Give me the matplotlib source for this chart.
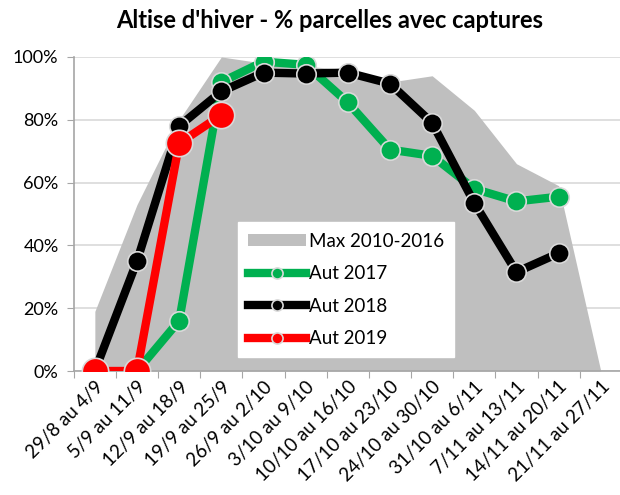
import matplotlib.pyplot as plt
import numpy as np

plt.rcParams['font.family'] = ['Lato', 'DejaVu Sans']

weeks = ['29/8 au 4/9', '5/9 au 11/9', '12/9 au 18/9', '19/9 au 25/9',
         '26/9 au 2/10', '3/10 au 9/10', '10/10 au 16/10', '17/10 au 23/10',
         '24/10 au 30/10', '31/10 au 6/11', '7/11 au 13/11', '14/11 au 20/11',
         '21/11 au 27/11']
max_2010_2016 = [19, 53, 80, 100, 98, 97, 96, 92, 94, 83, 66, 59, 0]
aut_2017 = [np.nan, 0, 16, 92, 98.5, 97.5, 85.5, 70.5, 68.5, 58, 54, 55.5, np.nan]
aut_2018 = [0, 35, 78, 89, 95, 94.7, 95, 91.5, 79, 53.5, 31.5, 37.5, np.nan]
aut_2019 = [0, 0, 72.5, 81.5] + [np.nan] * 9

x = np.arange(len(weeks))
fig = plt.figure(figsize=(6.2, 4.95), dpi=100)
ax = fig.add_axes([0.119, 0.2505, 0.884, 0.6345])

ax.fill_between(x, max_2010_2016, 0, color='#bfbfbf', lw=0, zorder=1,
                label='Max 2010-2016')
ax.plot(x, aut_2017, color='#00b050', lw=6, marker='o', ms=14,
        mec='#d9d9d9', mew=1.2, zorder=3, label='Aut 2017')
ax.plot(x, aut_2018, color='black', lw=6, marker='o', ms=14,
        mec='#d9d9d9', mew=1.2, zorder=4, label='Aut 2018')
ax.plot(x, aut_2019, color='#ff0000', lw=6, marker='o', ms=19,
        mec='#d9d9d9', mew=1.2, zorder=5, label='Aut 2019')

ax.set_xlim(-0.5, len(weeks) - 0.5)
ax.set_ylim(0, 100)
ax.set_yticks(range(0, 101, 20))
ax.set_yticklabels([f'{v}%' for v in range(0, 101, 20)], fontsize=13)
ax.yaxis.grid(True, color='#d9d9d9', lw=1.2)
ax.set_axisbelow(True)

ax.set_xticks(np.arange(-0.5, len(weeks)), minor=False)
ax.set_xticklabels([])
ax.set_xticks(x, minor=True)
ax.set_xticklabels(weeks, minor=True, rotation=45, ha='right', va='top',
                   rotation_mode='anchor', fontsize=13.5)
ax.tick_params(axis='x', which='minor', length=0, pad=5)
ax.tick_params(axis='x', which='major', length=5, color='#a6a6a6')
ax.tick_params(axis='y', length=5, color='#a6a6a6', pad=6)

for s in ['top', 'right']:
    ax.spines[s].set_visible(False)
for s in ['left', 'bottom']:
    ax.spines[s].set_color('#a6a6a6')
    ax.spines[s].set_linewidth(1.2)

leg = ax.legend(loc='upper left', bbox_to_anchor=(0.299, 0.473), fontsize=13.5,
                frameon=True, fancybox=False, framealpha=1, edgecolor='white',
                handlelength=3.1, handleheight=0.6, handletextpad=0.15,
                borderaxespad=0, labelspacing=0.82, borderpad=0.55)
leg.set_zorder(10)
for h in leg.legend_handles[1:]:
    h.set_markersize(8)

fig.text(0.532, 0.958, "Altise d'hiver - % parcelles avec captures",
         ha='center', va='center', fontsize=17, fontweight='bold')

fig.savefig('out.png', dpi=100)
